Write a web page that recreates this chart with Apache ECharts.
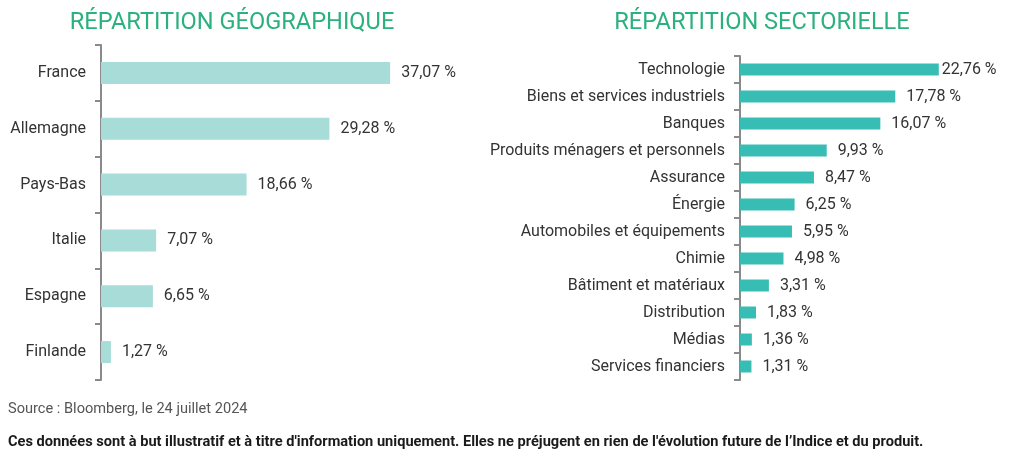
<!DOCTYPE html>
<html>
<head>
<meta charset="utf-8">
<script src="https://cdn.jsdelivr.net/npm/echarts@6/dist/echarts.min.js"></script>
<style>
html,body{margin:0;padding:0;background:#fff;}
#c{width:1016px;height:462px;}
</style>
</head>
<body>
<div id="c"></div>
<script>
var geoCategories = ['France','Allemagne','Pays-Bas','Italie','Espagne','Finlande'];
var geoValues = [37.07, 29.28, 18.66, 7.07, 6.65, 1.27];

var secCategories = ['Technologie','Biens et services industriels','Banques','Produits ménagers et personnels','Assurance','Énergie','Automobiles et équipements','Chimie','Bâtiment et matériaux','Distribution','Médias','Services financiers'];
var secValues = [22.76, 17.78, 16.07, 9.93, 8.47, 6.25, 5.95, 4.98, 3.31, 1.83, 1.36, 1.31];

var titleGeo = 'RÉPARTITION GÉOGRAPHIQUE';
var titleSec = 'RÉPARTITION SECTORIELLE';
var sourceText = 'Source : Bloomberg, le 24 juillet 2024';
var footerText = "Ces données sont à but illustratif et à titre d'information uniquement. Elles ne préjugent en rien de l'évolution future de l’Indice et du produit.";

var FONT = 'Roboto, "Noto Sans", sans-serif';
var TXT = '#333';
var AXIS = '#8a8a8a';
var GREEN = '#2bb07f';

function fmt(v){ return v.toFixed(2).replace('.', ',') + ' %'; }

function catAxis(idx, cats){
  return {
    type:'category', gridIndex:idx, data:cats, inverse:true,
    axisLine:{show:true, lineStyle:{color:AXIS, width:2}},
    axisTick:{show:true, length:6, lineStyle:{color:AXIS, width:2}},
    axisLabel:{color:TXT, fontSize:16, fontFamily:FONT, margin:15}
  };
}
function valAxis(idx, max){
  return {
    type:'value', gridIndex:idx, min:0, max:max,
    show:false, splitLine:{show:false}
  };
}

var chart = echarts.init(document.getElementById('c'), null, {renderer:'canvas'});
chart.setOption({
  animation:false,
  backgroundColor:'#fff',
  title:[
    {text:titleGeo, left:227, top:6, textAlign:'center',
     textStyle:{color:GREEN, fontSize:23.6, fontWeight:'normal', fontFamily:FONT}},
    {text:titleSec, left:757, top:6, textAlign:'center',
     textStyle:{color:GREEN, fontSize:23.6, fontWeight:'normal', fontFamily:FONT}}
  ],
  graphic:[
    {type:'text', left:8, top:402, style:{text:sourceText, fill:'#555', fontSize:14.6, fontFamily:FONT}},
    {type:'text', left:8, top:435, style:{text:footerText, fill:'#1a1a1a', fontSize:14.6, fontWeight:'bold', fontFamily:FONT}}
  ],
  grid:[
    {left:101, top:45, width:312, height:335},
    {left:740, top:56, width:262, height:324}
  ],
  xAxis:[valAxis(0,40), valAxis(1,30)],
  yAxis:[catAxis(0, geoCategories), catAxis(1, secCategories)],
  series:[
    {type:'bar', xAxisIndex:0, yAxisIndex:0, data:geoValues, barWidth:22,
     itemStyle:{color:'#a7dcd9'},
     label:{show:true, position:'right', distance:11, color:TXT, fontSize:16, fontFamily:FONT,
            formatter:function(p){return fmt(p.value);}}},
    {type:'bar', xAxisIndex:1, yAxisIndex:1, barWidth:12,
     data:secValues.map(function(v,i){
       return i===0 ? {value:v, label:{distance:3}} : v;
     }),
     itemStyle:{color:'#38bdb5'},
     label:{show:true, position:'right', distance:11, color:TXT, fontSize:16, fontFamily:FONT,
            formatter:function(p){return fmt(p.value);}}}
  ]
});
</script>
</body>
</html>
